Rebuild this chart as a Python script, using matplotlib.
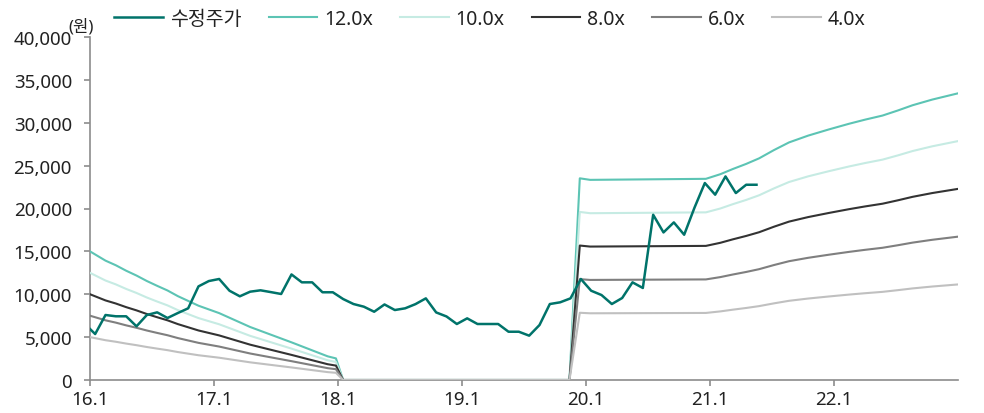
import matplotlib
matplotlib.use("Agg")
import matplotlib.pyplot as plt
from matplotlib.ticker import FuncFormatter, FixedLocator

plt.rcParams['font.family'] = ['Noto Sans', 'Noto Sans CJK KR', 'DejaVu Sans']

# x positions are months since 2016-01
tick_months = [0, 12, 24, 36, 48, 60, 72]
tick_labels = ["16.1", "17.1", "18.1", "19.1", "20.1", "21.1", "22.1"]

price_month = [0, 0.5, 1.5, 2.5, 3.5, 4.5, 5.5, 6.5, 7.5, 8.5, 9.5, 10.5, 11.5,
               12.5, 13.5, 14.5, 15.5, 16.5, 17.5, 18.5, 19.5, 20.5, 21.5, 22.5, 23.5,
               24.5, 25.5, 26.5, 27.5, 28.5, 29.5, 30.5, 31.5, 32.5, 33.5, 34.5, 35.5,
               36.5, 37.5, 38.5, 39.5, 40.5, 41.5, 42.5, 43.5, 44.5, 45.5, 46.5, 47.5,
               48.5, 49.5, 50.5, 51.5, 52.5, 53.5, 54.5, 55.5, 56.5, 57.5, 58.5, 59.5,
               60.5, 61.5, 62.5, 63.5, 64.5]
price = [5950, 5360, 7580, 7430, 7430, 6260, 7580, 7890, 7230, 7810, 8360, 10920, 11540,
         11780, 10410, 9760, 10300, 10460, 10250, 10030, 12310, 11390, 11390, 10230, 10230,
         9440, 8860, 8550, 7960, 8810, 8160, 8360, 8850, 9520, 7880, 7410, 6530,
         7190, 6530, 6530, 6530, 5630, 5630, 5170, 6410, 8860, 9060, 9520, 11780,
         10410, 9910, 8860, 9560, 11390, 10730, 19270, 17210, 18380, 16940, 20100, 22970,
         21610, 23740, 21800, 22770, 22770]

# EPS underlying the PER bands (원)
eps_month = [0, 1.5, 2.5, 3.5, 4.5, 5.5, 6.5, 7.5, 8.5, 10.5, 12.5, 15.5, 19.5, 23.0,
             23.8, 24.5, 46.4, 47.4, 48.4, 59.6, 61.0, 62.2, 63.5, 64.75, 66.2, 67.65,
             69.5, 71.5, 73.45, 75.0, 76.7, 78.2, 79.6, 81.5, 84]
eps = [1250, 1160, 1115, 1062, 1015, 962, 915, 870, 815, 722, 650, 515, 366, 230,
       210, 0, 0, 1960, 1945, 1955, 2000, 2050, 2100, 2154, 2235, 2309, 2375, 2435,
       2490, 2530, 2570, 2620, 2670, 2725, 2786]

multiples = [12.0, 10.0, 8.0, 6.0, 4.0]
band_labels = ["12.0x", "10.0x", "8.0x", "6.0x", "4.0x"]
band_colors = ["#5CC4B4", "#C6EBE3", "#333333", "#7F7F7F", "#C0C0C0"]
price_color = "#00736A"

fig = plt.figure(figsize=(9.84, 4.14), dpi=100)
ax = fig.add_axes([90/984, 1-381/414, (958-90)/984, (381-38)/414])

handles = []
h, = ax.plot(price_month, price, color=price_color, lw=1.8, zorder=5, label="수정주가")
handles.append(h)
for m, lab, c in zip(multiples, band_labels, band_colors):
    h, = ax.plot(eps_month, [e * m for e in eps], color=c, lw=1.5, zorder=3, label=lab)
    handles.append(h)

ax.set_xlim(0, 84)
ax.set_ylim(0, 40000)
ax.set_yticks(range(0, 40001, 5000))
ax.yaxis.set_major_formatter(FuncFormatter(lambda v, p: f"{int(v):,}"))
ax.xaxis.set_major_locator(FixedLocator(tick_months))
ax.set_xticklabels(tick_labels)

for s in ["top", "right"]:
    ax.spines[s].set_visible(False)
for s in ["left", "bottom"]:
    ax.spines[s].set_color("#8C8C8C")
    ax.spines[s].set_linewidth(1.2)
ax.tick_params(axis="both", colors="#8C8C8C", labelcolor="#222222", labelsize=13.5,
               length=4, width=1.2, direction="out")
ax.tick_params(axis="y", pad=9)
ax.tick_params(axis="x", pad=3)

fig.text(68/984, 1-27/414, "(원)", fontsize=12, color="#222222", ha="left", va="center")

fig.legend(handles=handles, loc="center", bbox_to_anchor=(490/984, 1-20/414), ncol=6,
           frameon=False, fontsize=14, handlelength=2.5, columnspacing=1.4,
           handletextpad=0.35, labelcolor="#222222")

fig.savefig("out.png", dpi=100)
